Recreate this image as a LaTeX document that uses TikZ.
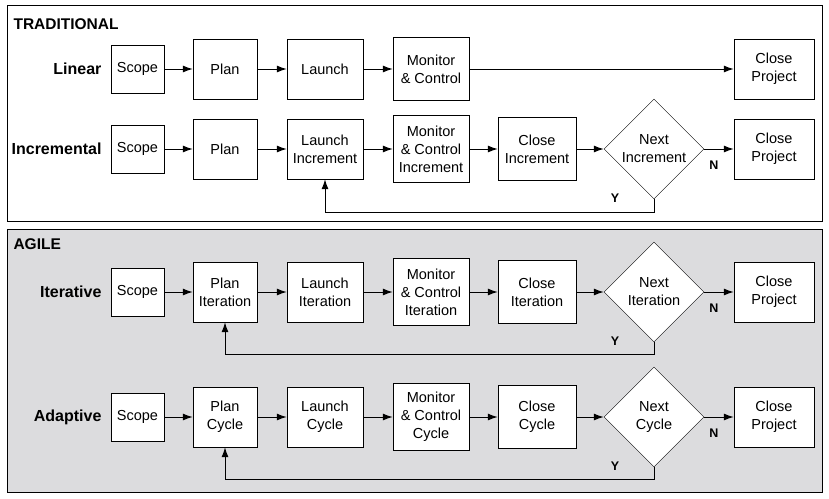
\documentclass[tikz,border=0pt]{standalone}
\usepackage{fontspec}
\setmainfont{Liberation Sans}
\usetikzlibrary{arrows.meta}
\usetikzlibrary{shapes.geometric}
\definecolor{agilegrey}{RGB}{220,220,222}

\begin{document}
\begin{tikzpicture}[x=1pt,y=-1pt,>={Latex[length=10pt,width=7pt]},
  box/.style={draw,fill=white,align=center,inner sep=0pt,font=\fontsize{14.5}{18}\selectfont},
  choice/.style={draw,fill=white,diamond,minimum width=100pt,minimum height=100pt,inner sep=0pt,align=center,font=\fontsize{14.5}{18}\selectfont},
  rowlabel/.style={anchor=east,font=\bfseries\fontsize{16}{18}\selectfont},
  paneltitle/.style={anchor=west,font=\bfseries\fontsize{15.5}{18}\selectfont},
  yn/.style={font=\bfseries\fontsize{12.5}{14}\selectfont},
  link/.style={->,line width=1pt},
]
\useasboundingbox (0,0) rectangle (829,498);
%%
\draw[line width=0.8pt] (7,5) rectangle (822,221);
\draw[line width=0.8pt,fill=agilegrey] (7,229) rectangle (822,492);
\node[paneltitle] (traditional) at (10,24) {TRADITIONAL};
\node[paneltitle] (agile) at (10,244) {AGILE};
%% Linear
\node[rowlabel] (lin) at (105,69) {Linear};
\node[box,minimum width=53pt,minimum height=48pt] (lin_scope) at (137.5,69) {Scope};
\node[box,minimum width=64pt,minimum height=60pt] (lin_plan) at (225,69) {Plan};
\node[box,minimum width=76pt,minimum height=60pt] (lin_launch) at (325,69) {Launch};
\node[box,minimum width=76pt,minimum height=63pt] (lin_monitor) at (431,69) {Monitor\\\& Control};
\node[box,minimum width=80pt,minimum height=60pt] (lin_close) at (774,69) {Close\\Project};
\draw[link] (lin_scope) -- (lin_plan);
\draw[link] (lin_plan) -- (lin_launch);
\draw[link] (lin_launch) -- (lin_monitor);
\draw[link] (lin_monitor) -- (lin_close);
%% Incremental
\node[rowlabel] (inc) at (105,149) {Incremental};
\node[box,minimum width=53pt,minimum height=48pt] (inc_scope) at (137.5,149) {Scope};
\node[box,minimum width=64pt,minimum height=60pt] (inc_plan) at (225,149) {Plan};
\node[box,minimum width=76pt,minimum height=60pt] (inc_launch) at (325,149) {Launch\\Increment};
\node[box,minimum width=76pt,minimum height=67pt] (inc_monitor) at (431,149) {Monitor\\\& Control\\Increment};
\node[box,minimum width=78pt,minimum height=63pt] (inc_close) at (537,149) {Close\\Increment};
\node[choice] (inc_next) at (654,149) {Next\\Increment};
\node[box,minimum width=80pt,minimum height=60pt] (inc_project) at (774,149) {Close\\Project};
\draw[link] (inc_scope) -- (inc_plan);
\draw[link] (inc_plan) -- (inc_launch);
\draw[link] (inc_launch) -- (inc_monitor);
\draw[link] (inc_monitor) -- (inc_close);
\draw[link] (inc_close) -- (inc_next);
\draw[link] (inc_next) -- (inc_project);
\draw[link] (inc_next.south) -- ++(0,13) -| (inc_launch.south);
\node[yn] (inc_n) at (714,165) {N};
\node[yn] (inc_y) at (615,198) {Y};
%% Iterative
\node[rowlabel] (ite) at (105,292) {Iterative};
\node[box,minimum width=53pt,minimum height=48pt] (ite_scope) at (137.5,292) {Scope};
\node[box,minimum width=64pt,minimum height=60pt] (ite_plan) at (225,292) {Plan\\Iteration};
\node[box,minimum width=76pt,minimum height=60pt] (ite_launch) at (325,292) {Launch\\Iteration};
\node[box,minimum width=76pt,minimum height=67pt] (ite_monitor) at (431,292) {Monitor\\\& Control\\Iteration};
\node[box,minimum width=78pt,minimum height=63pt] (ite_close) at (537,292) {Close\\Iteration};
\node[choice] (ite_next) at (654,292) {Next\\Iteration};
\node[box,minimum width=80pt,minimum height=60pt] (ite_project) at (774,292) {Close\\Project};
\draw[link] (ite_scope) -- (ite_plan);
\draw[link] (ite_plan) -- (ite_launch);
\draw[link] (ite_launch) -- (ite_monitor);
\draw[link] (ite_monitor) -- (ite_close);
\draw[link] (ite_close) -- (ite_next);
\draw[link] (ite_next) -- (ite_project);
\draw[link] (ite_next.south) -- ++(0,12) -| (ite_plan.south);
\node[yn] (ite_n) at (714,308) {N};
\node[yn] (ite_y) at (615,341) {Y};
%% Adaptive
\node[rowlabel] (ada) at (105,417) {Adaptive};
\node[box,minimum width=53pt,minimum height=48pt] (ada_scope) at (137.5,417) {Scope};
\node[box,minimum width=64pt,minimum height=60pt] (ada_plan) at (225,417) {Plan\\Cycle};
\node[box,minimum width=76pt,minimum height=60pt] (ada_launch) at (325,417) {Launch\\Cycle};
\node[box,minimum width=76pt,minimum height=67pt] (ada_monitor) at (431,417) {Monitor\\\& Control\\Cycle};
\node[box,minimum width=78pt,minimum height=63pt] (ada_close) at (537,417) {Close\\Cycle};
\node[choice] (ada_next) at (654,417) {Next\\Cycle};
\node[box,minimum width=80pt,minimum height=60pt] (ada_project) at (774,417) {Close\\Project};
\draw[link] (ada_scope) -- (ada_plan);
\draw[link] (ada_plan) -- (ada_launch);
\draw[link] (ada_launch) -- (ada_monitor);
\draw[link] (ada_monitor) -- (ada_close);
\draw[link] (ada_close) -- (ada_next);
\draw[link] (ada_next) -- (ada_project);
\draw[link] (ada_next.south) -- ++(0,12) -| (ada_plan.south);
\node[yn] (ada_n) at (714,433) {N};
\node[yn] (ada_y) at (615,466) {Y};
%
\end{tikzpicture}
\end{document}
